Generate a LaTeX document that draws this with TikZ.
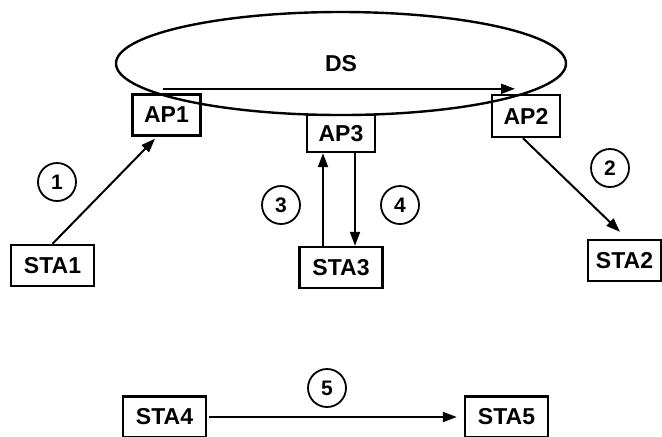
\documentclass[tikz,border=0pt]{standalone}
\usepackage{fontspec}
\setmainfont{Liberation Sans}
\usetikzlibrary{shapes.geometric, arrows.meta}

\begin{document}
\begin{tikzpicture}[-,>={Triangle[length=7pt,width=5pt]},x=0.5pt,y=-0.5pt,
      line width=1pt,
      box node/.style={rectangle,draw,line width=1.2pt,inner sep=0pt,minimum height=20.5pt,font=\fontsize{11.5}{13}\selectfont\bfseries},
      ap node/.style={box node,minimum width=34pt},
      sta node/.style={box node,minimum width=41.5pt},
      num node/.style={circle,draw,line width=0.9pt,inner sep=0pt,minimum size=19pt,font=\fontsize{10.5}{12}\selectfont\bfseries},
      ds node/.style={ellipse,draw,line width=1.2pt,inner sep=0pt,minimum width=225pt,minimum height=51.5pt,font=\fontsize{11.5}{13}\selectfont\bfseries}]

    \useasboundingbox (0,0) rectangle (662,436);

    \node[ds node] (ds) at (341,63.5) {DS};

    \node[ap node] (AP1) at (166.5,115) {AP1};
    \node[ap node, minimum height=18.5pt] (AP3) at (341,133.5) {AP3};
    \node[ap node, minimum height=21pt] (AP2) at (526,116) {AP2};

    \node[sta node] (STA1) at (52.5,265.5) {STA1};
    \node[sta node] (STA3) at (341,267.5) {STA3};
    \node[sta node, minimum width=36.5pt] (STA2) at (624.5,260.5) {STA2};
    \node[sta node] (STA4) at (164.5,417) {STA4};
    \node[sta node] (STA5) at (506.5,417) {STA5};

    \node[num node] (n1) at (57,182) {1};
    \node[num node] (n2) at (610,168) {2};
    \node[num node] (n3) at (281,205) {3};
    \node[num node] (n4) at (400,205) {4};
    \node[num node] (n5) at (327,388) {5};

    \path[->]
        ([shift={(-3.5,-4.5)}]AP1.north) edge ([shift={(-11,-5)}]AP2.north)
        (STA1.north) edge ([shift={(-11.5,2)}]AP1.south)
        ([xshift=-1.5pt]AP2.south) edge ([shift={(-4.5,-7)}]STA2.north)
        ([xshift=-9pt]STA3.north) edge ([xshift=-9pt]AP3.south)
        ([xshift=7pt]AP3.south) edge ([xshift=7pt]STA3.north)
        ([xshift=1pt]STA4.east) edge ([xshift=-3.5pt]STA5.west)
    ;
\end{tikzpicture}
\end{document}
